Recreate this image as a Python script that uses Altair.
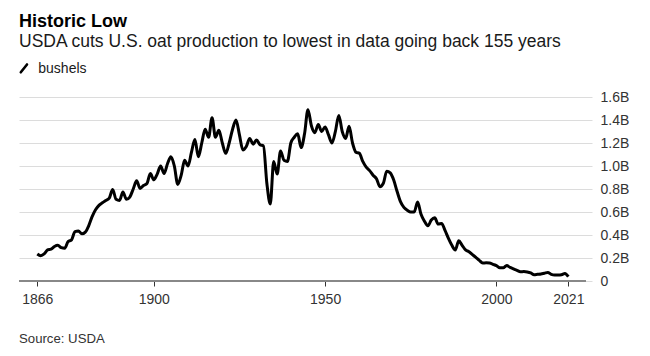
import altair as alt
import pandas as pd

# ---- data (billions of bushels) ----
years = list(range(1866, 2022))
bushels_b = [
    0.235, 0.22, 0.235, 0.27, 0.277, 0.30, 0.31, 0.29, 0.285, 0.343,      # 1866-1875
    0.358, 0.43, 0.435, 0.41, 0.425, 0.48, 0.56, 0.62, 0.658, 0.68,       # 1876-1885
    0.70, 0.72, 0.795, 0.71, 0.70, 0.775, 0.71, 0.73, 0.80, 0.871,        # 1886-1895
    0.805, 0.83, 0.848, 0.935, 0.88, 0.93, 1.0, 0.935, 1.02, 1.08,        # 1896-1905
    1.0, 0.84, 0.92, 1.05, 1.0, 1.12, 1.23, 1.08, 1.2, 1.32,              # 1906-1915
    1.25, 1.42, 1.25, 1.31, 1.2, 1.11, 1.2, 1.32, 1.40, 1.27,             # 1916-1925
    1.14, 1.17, 1.24, 1.19, 1.226, 1.185, 1.175, 0.85, 0.67, 1.04,        # 1926-1935
    0.93, 1.13, 1.05, 1.04, 1.2, 1.25, 1.28, 1.16, 1.28, 1.49,            # 1936-1945
    1.35, 1.29, 1.36, 1.30, 1.34, 1.27, 1.2, 1.3, 1.44, 1.30,             # 1946-1955
    1.24, 1.345, 1.2, 1.12, 1.11, 1.04, 0.99, 0.96, 0.92, 0.89,           # 1956-1965
    0.82, 0.85, 0.955, 0.94, 0.88, 0.78, 0.69, 0.64, 0.615, 0.60,         # 1966-1975
    0.60, 0.687, 0.58, 0.52, 0.48, 0.53, 0.55, 0.495, 0.50, 0.44,         # 1976-1985
    0.37, 0.31, 0.27, 0.35, 0.31, 0.27, 0.255, 0.23, 0.205, 0.18,         # 1986-1995
    0.157, 0.158, 0.157, 0.145, 0.134, 0.115, 0.115, 0.134, 0.118, 0.105, # 1996-2005
    0.093, 0.081, 0.082, 0.078, 0.07, 0.055, 0.058, 0.061, 0.068, 0.075,  # 2006-2015
    0.058, 0.052, 0.052, 0.055, 0.066, 0.038,                             # 2016-2021
]
x_ticks = [1866, 1900, 1950, 2000, 2021]
y_ticks = [0, 0.2, 0.4, 0.6, 0.8, 1.0, 1.2, 1.4, 1.6]

title_text = "Historic Low"
subtitle_text = "USDA cuts U.S. oat production to lowest in data going back 155 years"
legend_text = "bushels"
source_text = "Source: USDA"

df = pd.DataFrame({"year": years, "value": bushels_b})

FONT = "Liberation Sans"
W, H = 573, 184
TOP, LEFT = 97, 19

line = alt.Chart(df).mark_line(
    color="#000000", strokeWidth=3, interpolate="monotone"
).encode(
    x=alt.X(
        "year:Q",
        scale=alt.Scale(domain=[1860.66, 2027.9], nice=False, zero=False),
        axis=alt.Axis(
            values=x_ticks, format="d", title=None, domain=False, grid=False,
            ticks=True, tickSize=5, tickColor="#333333", tickWidth=1,
            labelFontSize=14, labelFont=FONT, labelColor="#333333",
            labelPadding=6, labelFlush=False,
        ),
    ),
    y=alt.Y(
        "value:Q",
        scale=alt.Scale(domain=[0, 1.6], nice=False),
        axis=alt.Axis(
            orient="right", values=y_ticks, title=None,
            labelExpr="datum.value == 0 ? '0' : format(datum.value, '.1f') + 'B'",
            grid=True, gridColor="#dcdcdc", gridWidth=1,
            domain=False, ticks=False, labelPadding=8, labelAlign="left",
            labelBaseline="middle", labelFontSize=14, labelFont=FONT,
            labelColor="#333333",
        ),
    ),
)

baseline = alt.Chart(pd.DataFrame({"a": [0]})).mark_rule(
    color="#888888", strokeWidth=2
).encode(x=alt.value(0), x2=alt.value(567), y=alt.value(H))


def label(text, x, y, size, weight="normal", color="#000000"):
    return alt.Chart(pd.DataFrame({"t": [text]})).mark_text(
        align="left", baseline="alphabetic", font=FONT, fontSize=size,
        fontWeight=weight, color=color,
    ).encode(x=alt.value(x), y=alt.value(y), text="t:N")


title = label(title_text, 0, 27.3 - TOP, 18, "bold", "#000000")
subtitle = label(subtitle_text, 0, 47.3 - TOP, 17.5, "normal", "#1a1a1a")
legend = label(legend_text, 38.3 - LEFT, 72.7 - TOP, 14, "normal", "#1a1a1a")
source = label(source_text, 0, 343.3 - TOP, 13.2, "normal", "#333333")

slash = alt.Chart(pd.DataFrame({"a": [0]})).mark_rule(
    color="#000000", strokeWidth=2.6, strokeCap="round"
).encode(
    x=alt.value(20.8 - LEFT), x2=alt.value(27 - LEFT),
    y=alt.value(72.3 - TOP), y2=alt.value(64.5 - TOP),
)

chart = alt.layer(baseline, line, title, subtitle, legend, slash, source).properties(
    width=W, height=H,
    padding={"left": LEFT, "top": TOP, "right": 650 - LEFT - W, "bottom": 356 - TOP - H},
    autosize=alt.AutoSizeParams(type="none"),
    background="#ffffff",
).configure_view(stroke=None)

chart.save("out.html", embed_options={"renderer": "svg", "actions": False})
